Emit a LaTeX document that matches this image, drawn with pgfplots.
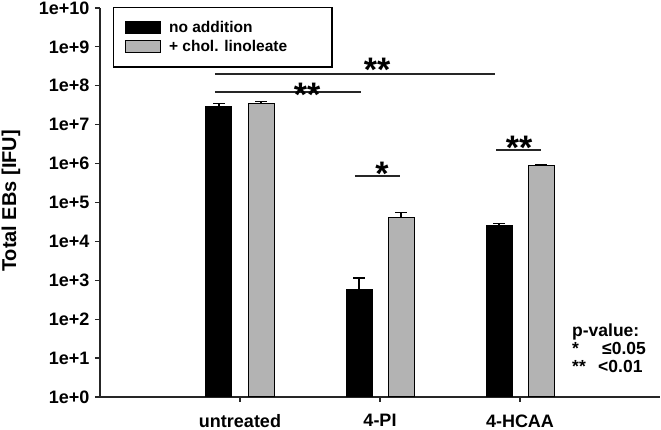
\documentclass[border=0pt]{standalone}
\usepackage{fontspec}
\setmainfont{Liberation Sans}
\usepackage{pgfplots}
\pgfplotsset{compat=1.18}
\newcommand\fs[1]{\fontsize{#1}{#1}\selectfont\bfseries}
\definecolor{bargray}{HTML}{B3B3B3}
\begin{document}
\begin{tikzpicture}
\begin{axis}[
  at={(0pt,0pt)}, anchor=south west,
  scale only axis, width=560pt, height=389pt,
  xmin=0, xmax=4, ymode=log, ymin=1, ymax=1e10,
  axis lines*=left,
  axis line style={line width=1.2pt, black!85},
  tick style={line width=1.2pt, black!85},
  tick align=outside, major tick length=5pt,
  yminorticks=false,
  xtick={1,2,3}, xticklabels={untreated,4-PI,4-HCAA},
  ytick={1,10,100,1000,1e4,1e5,1e6,1e7,1e8,1e9,1e10},
  yticklabels={1e+0,1e+1,1e+2,1e+3,1e+4,1e+5,1e+6,1e+7,1e+8,1e+9,1e+10},
  /pgf/number format/assume math mode=true,
  ticklabel style={font=\fs{18}},
  yticklabel style={xshift=-2pt},
  xticklabel style={yshift=-9pt},
  ylabel={Total EBs [IFU]},
  ylabel style={font=\fs{20}, at={(axis description cs:-0.159,0.504)}, anchor=center},
  ybar, bar width=26pt,
  legend style={at={(axis description cs:0.0232,1.0026)}, anchor=north west,
    draw=black, line width=1.2pt, font=\fs{15.5}, inner xsep=11pt, inner ysep=12pt,
    row sep=2pt, legend cell align=left},
  myleg/.style={legend image code/.code={\draw[##1, line width=1pt] (0pt,-6pt) rectangle (35pt,6pt); \path[draw=none, fill=none] (0pt,0pt) -- (42pt,0pt);}},
  clip=false,
]
\addplot[myleg, fill=black, draw=black, line width=1pt, bar shift=-21pt,
  error bars/.cd, y dir=plus, y explicit,
  error bar style={line width=1.2pt, black},
  error mark options={line width=1.2pt, black, mark size=6pt, rotate=90}]
  coordinates {(1,3.0e7) +- (0,0.55e7) (2,588) +- (0,562) (3,2.5e4) +- (0,0.42e4)};
\addlegendentry{\makebox[150pt][l]{no addition}}
\addplot[myleg, fill=bargray, draw=black, line width=1pt, bar shift=21pt,
  error bars/.cd, y dir=plus, y explicit,
  error bar style={line width=1.2pt, black},
  error mark options={line width=1.2pt, black, mark size=6pt, rotate=90}]
  coordinates {(1,3.55e7) +- (0,0.35e7) (2,4.07e4) +- (0,1.53e4) (3,9.1e5) +- (0,0.4e5)};
\addlegendentry{\makebox[150pt][l]{+ chol. linoleate}}

\draw[line width=1.2pt, black!85] (axis cs:0.821,2.01e8) -- (axis cs:2.821,2.01e8);
\node[font=\fs{34}, anchor=base, inner sep=0pt] at (axis cs:1.979,1.29e8) {**};
\draw[line width=1.2pt, black!85] (axis cs:0.821,6.93e7) -- (axis cs:1.864,6.93e7);
\node[font=\fs{34}, anchor=base, inner sep=0pt] at (axis cs:1.479,3.02e7) {**};
\draw[line width=1.2pt, black!85] (axis cs:1.821,4.8e5) -- (axis cs:2.143,4.8e5);
\node[font=\fs{34}, anchor=base, inner sep=0pt] at (axis cs:2.014,2.74e5) {*};
\draw[line width=1.2pt, black!85] (axis cs:2.829,2.24e6) -- (axis cs:3.15,2.24e6);
\node[font=\fs{34}, anchor=base, inner sep=0pt] at (axis cs:2.993,1.24e6) {**};
\end{axis}
\begin{scope}[every node/.style={font=\fs{17.5}, anchor=base west, inner sep=0pt}]
\node at (472pt,60pt) {p-value:};
\node at (472pt,42pt) {*};
\node at (502pt,42pt) {≤0.05};
\node at (472pt,24pt) {**};
\node at (498pt,24pt) {<0.01};
\end{scope}
\pgfresetboundingbox
\path[use as bounding box] (-100pt,-33pt) rectangle (561pt,397pt);
\end{tikzpicture}
\end{document}
